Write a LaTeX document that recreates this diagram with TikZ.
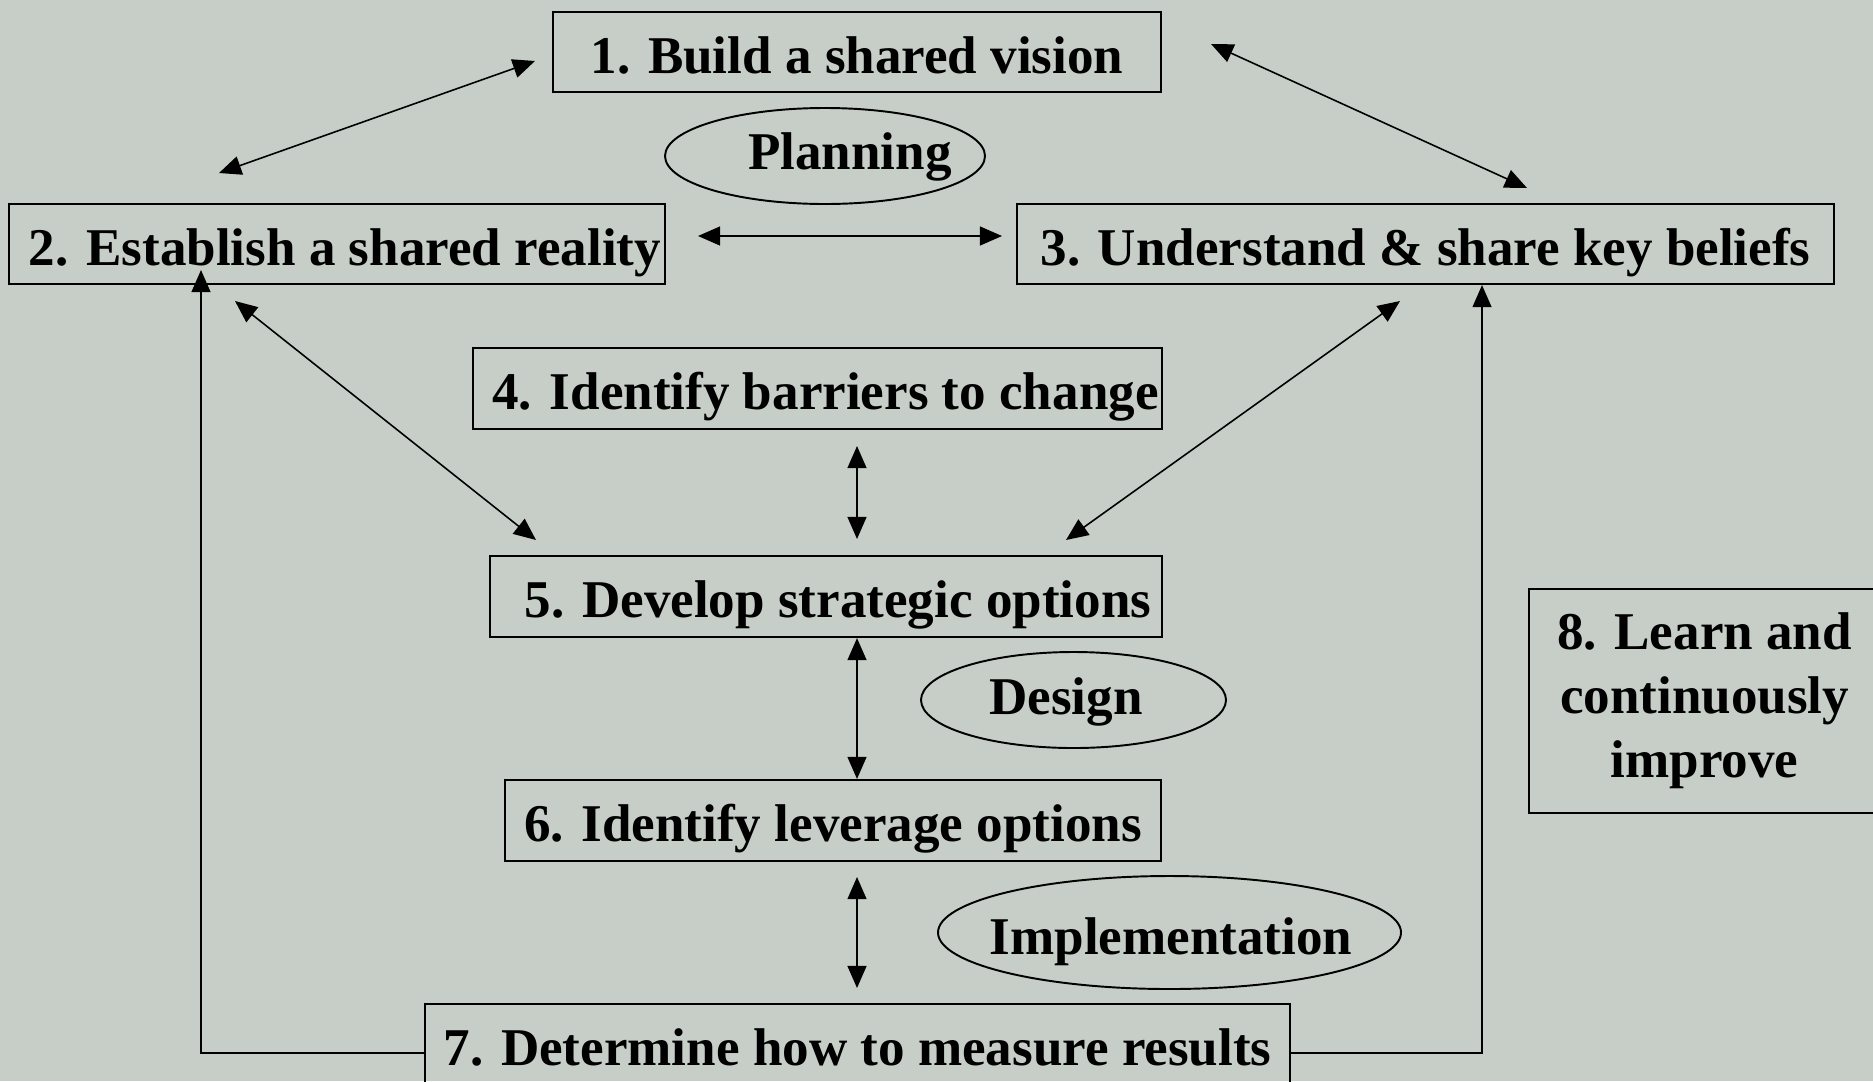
\documentclass[tikz,border=0pt]{standalone}
\usepackage{fontspec}
\setmainfont{Liberation Serif}
\usetikzlibrary{arrows.meta,shapes.geometric}
\definecolor{bgcol}{RGB}{199,206,199}
\begin{document}
\begin{tikzpicture}[x=0.1mm,y=-0.1mm,
  >={Triangle[length=6.3pt,width=5.4pt]},
  every node/.style={font=\fontsize{15.1}{18.2}\selectfont\bfseries},
  stepbox/.style={draw=black,line width=0.6pt,rectangle,inner sep=0pt,
    text height=12.2pt,text depth=0pt},
  phase/.style={draw=black,line width=0.55pt,ellipse,inner sep=0pt},
  link/.style={line width=0.45pt,<->},
  feedback/.style={line width=0.45pt,->}]
\useasboundingbox (0,0) rectangle (1873,1081);
\fill[bgcol] (0,0) rectangle (1873,1081);
\begin{scope}
\clip (0,0) rectangle (1873,1081);

% process steps
\node[stepbox,minimum width=60.8mm,minimum height=8mm] (b1) at (857,52) {1. Build a shared vision};
\node[stepbox,minimum width=65.6mm,minimum height=8mm] (b2) at (337,244) {\hspace*{1.6mm}2. Establish a shared reality};
\node[stepbox,minimum width=81.7mm,minimum height=8mm] (b3) at (1425.5,244) {3. Understand \& share key beliefs};
\node[stepbox,minimum width=68.9mm,minimum height=8.1mm] (b4) at (817.5,388.5) {\hspace*{1.6mm}4. Identify barriers to change};
\node[stepbox,minimum width=67.2mm,minimum height=8.1mm] (b5) at (826,596.5) {\hspace*{2.4mm}5. Develop strategic options};
\node[stepbox,minimum width=65.6mm,minimum height=8.1mm] (b6) at (833,820.5) {6. Identify leverage options};
\node[stepbox,minimum width=86.5mm,minimum height=8.1mm] (b7) at (857.5,1044.5) {7. Determine how to measure results};
\node[draw=black,line width=0.6pt,rectangle,inner sep=0pt,minimum width=35.1mm,minimum height=22.4mm,align=center] (b8) at (1704.5,701)
  {8. Learn and\\continuously\\improve};

% phases
\node[phase,minimum width=32mm,minimum height=9.6mm] (plan) at (825,156) {};
\node[anchor=base] (plant) at (850,169) {Planning};
\node[phase,minimum width=30.5mm,minimum height=9.6mm] (des) at (1073.5,700) {};
\node[anchor=base] (dest) at (1066,714) {Design};
\node[phase,minimum width=46.3mm,minimum height=11.3mm] (imp) at (1169.5,932.5) {};
\node[anchor=base] (impt) at (1171,954) {Implementation};

% connector end points
\coordinate (p1a) at (535,61);   \coordinate (p2a) at (219,173);
\coordinate (p1b) at (1211,44);  \coordinate (p3a) at (1527,188);
\coordinate (p2b) at (698,236);  \coordinate (p3b) at (1002,236);
\coordinate (p2c) at (235,301);  \coordinate (p5a) at (536,540);
\coordinate (p3c) at (1400,301); \coordinate (p5b) at (1066,540);
\coordinate (p4a) at (857,446);  \coordinate (p5c) at (857,539);
\coordinate (p6a) at (857,877);  \coordinate (p7a) at (857,988);
\coordinate (lpL) at (201,1053); \coordinate (tip2) at (201,270);
\coordinate (lpR) at (1482,1053);

% two-way links
\draw[link] (p1a) -- (p2a);
\draw[link] (p1b) -- (p3a);
\draw[link] (p2b) -- (p3b);
\draw[link] (p2c) -- (p5a);
\draw[link] (p3c) -- (p5b);
\draw[link] (p4a) -- (p5c);
\draw[link] (b5.south -| p4a) -- (b6.north -| p4a);
\draw[link] (p6a) -- (p7a);

% feedback loops from step 7
\draw[feedback] (b7.west |- lpL) -- (lpL) -- (tip2);
\draw[feedback] (b7.east |- lpR) -- (lpR) -- (b3.south -| lpR);
\end{scope}
\end{tikzpicture}
\end{document}
